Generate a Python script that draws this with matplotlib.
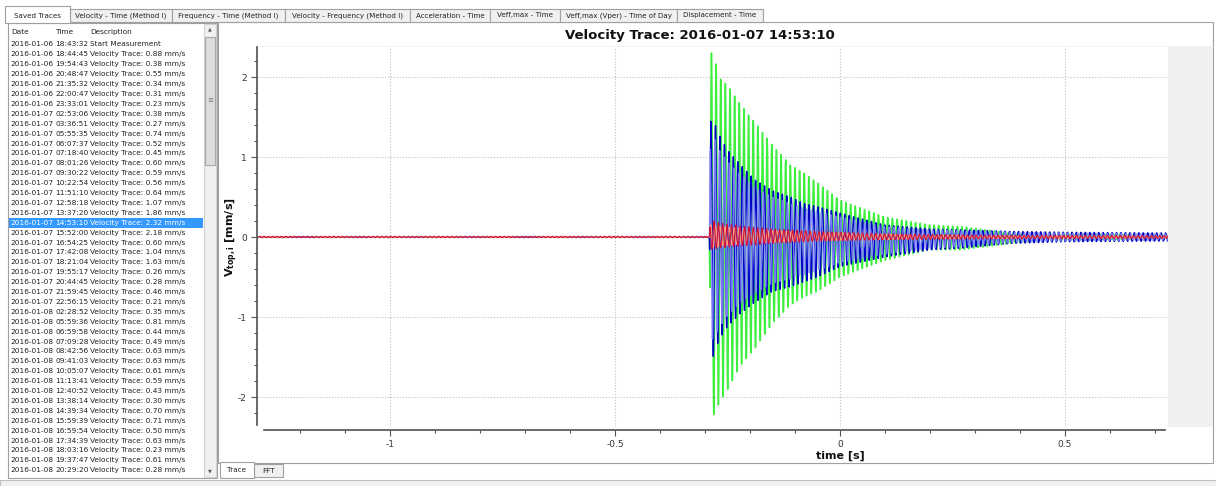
import numpy as np
import matplotlib.pyplot as plt
from matplotlib.patches import Rectangle
from matplotlib.ticker import MultipleLocator, FixedLocator

W, H = 1216, 486

# --- GUI texts ---
tabs = ['Saved Traces', 'Velocity - Time (Method I)', 'Frequency - Time (Method I)',
        'Velocity - Frequency (Method I)', 'Acceleration - Time', 'Veff,max - Time',
        'Veff,max (Vper) - Time of Day', 'Displacement - Time']
tab_edges = [5, 70, 172, 285, 410, 490, 560, 677, 763]

dates = ['2016-01-06'] * 7 + ['2016-01-07'] * 20 + ['2016-01-08'] * 17
times = ['18:43:32', '18:44:45', '19:54:43', '20:48:47', '21:35:32', '22:00:47', '23:33:01',
         '02:53:06', '03:36:51', '05:55:35', '06:07:37', '07:18:40', '08:01:26', '09:30:22',
         '10:22:54', '11:51:10', '12:58:18', '13:37:20', '14:53:10', '15:52:00', '16:54:25',
         '17:42:08', '18:21:04', '19:55:17', '20:44:45', '21:59:45', '22:56:15',
         '02:28:52', '05:59:36', '06:59:58', '07:09:28', '08:42:56', '09:41:03', '10:05:07',
         '11:13:41', '12:40:52', '13:38:14', '14:39:34', '15:59:39', '16:59:54', '17:34:39',
         '18:03:16', '19:37:47', '20:29:20']
peaks = [None, 0.88, 0.38, 0.55, 0.34, 0.31, 0.23,
         0.38, 0.27, 0.74, 0.52, 0.45, 0.60, 0.59, 0.56, 0.64, 1.07, 1.86, 2.32, 2.18, 0.60,
         1.04, 1.63, 0.26, 0.28, 0.46, 0.21,
         0.35, 0.81, 0.44, 0.49, 0.63, 0.63, 0.61, 0.59, 0.43, 0.30, 0.70, 0.71, 0.50, 0.63,
         0.23, 0.61, 0.28]
selected = 18
title = 'Velocity Trace: 2016-01-07 14:53:10'

# --- trace envelopes (time [s], upper / lower peak in mm/s) ---
env_t = [-1.30, -0.29, -0.288, -0.28, -0.27, -0.25, -0.22, -0.19, -0.15, -0.11, -0.08,
         -0.05, 0.0, 0.1, 0.2, 0.27, 0.38, 0.5, 0.73]
green_top = [0.005, 0.005, 2.30, 2.32, 2.0, 1.9, 1.65, 1.44, 1.15, 0.9, 0.8, 0.68, 0.46,
             0.25, 0.15, 0.13, 0.05, 0.04, 0.03]
green_bot = [-0.005, -0.005, -2.20, -2.22, -2.1, -1.91, -1.6, -1.4, -1.08, -0.85, -0.75,
             -0.68, -0.5, -0.29, -0.16, -0.16, -0.08, -0.04, -0.03]
blue_top = [0.005, 0.005, 1.45, 1.45, 1.3, 1.09, 0.9, 0.72, 0.58, 0.5, 0.42, 0.38, 0.30,
            0.15, 0.10, 0.09, 0.07, 0.06, 0.05]
blue_bot = [-0.005, -0.005, -1.45, -1.5, -1.3, -1.12, -0.95, -0.82, -0.68, -0.62, -0.56,
            -0.5, -0.37, -0.25, -0.16, -0.14, -0.08, -0.06, -0.05]
lav_top = [0.005, 0.005, 1.2, 1.25, 1.1, 0.95, 0.78, 0.62, 0.5, 0.42, 0.36, 0.32, 0.25,
           0.13, 0.09, 0.08, 0.06, 0.05, 0.04]
lav_bot = [-0.005, -0.005, -1.25, -1.3, -1.15, -0.98, -0.82, -0.7, -0.58, -0.52, -0.47,
           -0.42, -0.32, -0.21, -0.14, -0.12, -0.07, -0.05, -0.04]
red_top = [0.008, 0.008, 0.2, 0.2, 0.18, 0.16, 0.14, 0.12, 0.1, 0.09, 0.08, 0.07, 0.06,
           0.04, 0.03, 0.025, 0.02, 0.02, 0.015]
red_bot = [-0.008, -0.008, -0.15, -0.15, -0.14, -0.13, -0.11, -0.1, -0.08, -0.07, -0.06,
           -0.05, -0.045, -0.035, -0.03, -0.025, -0.02, -0.02, -0.015]
orange_top = [0.005, 0.005, 0.15, 0.15, 0.14, 0.12, 0.11, 0.1, 0.08, 0.07, 0.06, 0.055,
              0.05, 0.035, 0.025, 0.02, 0.015, 0.015, 0.01]
orange_bot = [-0.005, -0.005, -0.13, -0.13, -0.12, -0.1, -0.09, -0.08, -0.065, -0.055, -0.05,
              -0.045, -0.04, -0.03, -0.02, -0.02, -0.015, -0.015, -0.01]
# dominant frequency of each channel [Hz], onset time [s]
freqs = {'green': 97, 'blue': 101, 'lav': 93, 'red': 103, 'orange': 95}
onset = -0.288

fig = plt.figure(figsize=(W / 100, H / 100), dpi=100, facecolor='white')
plt.rcParams['font.family'] = ['DejaVu Sans']

# background axes in pixel coordinates
bg = fig.add_axes([0, 0, 1, 1], zorder=0)
bg.set_xlim(0, W)
bg.set_ylim(H, 0)
bg.axis('off')


def box(x0, y0, x1, y1, fc, ec='#a0a0a0', lw=0.8, z=1):
    bg.add_patch(Rectangle((x0, y0), x1 - x0, y1 - y0, facecolor=fc, edgecolor=ec, lw=lw, zorder=z))


# tabs
for i, name in enumerate(tabs):
    x0, x1 = tab_edges[i], tab_edges[i + 1]
    if i == 0:
        box(x0, 6, x1, 23, 'white', z=3)
    else:
        box(x0, 9, x1, 22, '#f0f0f0', z=2)
    bg.text((x0 + x1) / 2, 15.5, name, fontsize=5.1, ha='center', va='center', color='#222', zorder=4)

# left list panel
box(8, 23, 217, 478, 'white', z=1)
bg.text(11, 32, 'Date', fontsize=5.3, va='center', color='#222', zorder=4)
bg.text(55, 32, 'Time', fontsize=5.3, va='center', color='#222', zorder=4)
bg.text(90, 32, 'Description', fontsize=5.3, va='center', color='#222', zorder=4)
for i in range(len(dates)):
    y = 44.5 + i * 9.9
    col = '#222'
    if i == selected:
        box(9, y - 5, 203, y + 5, '#3399ff', ec='none', z=2)
        col = 'white'
    desc = 'Start Measurement' if peaks[i] is None else 'Velocity Trace: %.2f mm/s' % peaks[i]
    bg.text(10, y, dates[i], fontsize=5.3, va='center', color=col, zorder=4)
    bg.text(55, y, times[i], fontsize=5.3, va='center', color=col, zorder=4)
    bg.text(90, y, desc, fontsize=5.3, va='center', color=col, zorder=4)
# scrollbar
box(204, 24, 216, 477, '#f0f0f0', ec='#d0d0d0', z=3)
box(205, 37, 215, 165, '#dcdcdc', ec='#a8a8a8', z=4)
bg.text(210, 100, '≡', fontsize=5, ha='center', va='center', color='#777', zorder=5)
bg.text(210, 29, '▲', fontsize=3.5, ha='center', va='center', color='#555', zorder=5)
bg.text(210, 471, '▼', fontsize=3.5, ha='center', va='center', color='#555', zorder=5)

# right plot panel
box(218, 22, 1213, 463, 'white', z=1)
bg.plot([258, 1213], [47, 47], color='#c8c8c8', lw=1, zorder=2)
box(1168, 47, 1213, 427, '#f0f0f0', ec='none', z=2)
bg.text(700, 35, title, fontsize=9.5, fontweight='bold', ha='center', va='center', color='#111', zorder=4)
bg.text(840, 456, 'time [s]', fontsize=8, fontweight='bold', ha='center', va='center', color='#111', zorder=4)
bg.text(232, 237, r'$\mathbf{V_{top,i}}$ [mm/s]', fontsize=8, fontweight='bold', rotation=90,
        ha='center', va='center', color='#111', zorder=4)

# bottom tabs and status bar
box(254, 464, 283, 477, '#f0f0f0', z=2)
box(220, 462, 254, 478, 'white', z=3)
bg.text(237, 470, 'Trace', fontsize=5.2, ha='center', va='center', color='#222', zorder=4)
bg.text(268.5, 470.5, 'FFT', fontsize=5.2, ha='center', va='center', color='#222', zorder=4)
box(0, 480, W, H + 1, '#f0f0f0', ec='#c0c0c0', z=2)

# plot canvas
ax = fig.add_axes([258 / W, 1 - 427 / H, 910 / W, 380 / H], zorder=2)
ax.set_xlim(-1.293, 0.729)
ax.set_ylim(-2.375, 2.375)

t = np.arange(-1.293, 0.729, 0.0003)


def trace(top, bot, f, phase=0.0):
    s = np.sin(2 * np.pi * f * (t - onset) + phase)
    up = np.interp(t, env_t, top)
    lo = -np.interp(t, env_t, bot)
    return np.where(s > 0, s * up, s * lo)


ax.plot(t, trace(green_top, green_bot, freqs['green']), color='#3ef03e', lw=1.1)
ax.plot(t, trace(blue_top, blue_bot, freqs['blue'], 0.5), color='#0000c8', lw=1.0)
ax.plot(t, trace(lav_top, lav_bot, freqs['lav'], 2.0), color='#8c8cff', lw=1.0, alpha=0.85)
ax.plot(t, trace(orange_top, orange_bot, freqs['orange'], 1.0), color='#ffa07a', lw=1.0)
ax.plot(t, trace(red_top, red_bot, freqs['red'], 2.5), color='#d0103a', lw=0.8)

for side in ['top', 'right']:
    ax.spines[side].set_visible(False)
ax.spines['left'].set_position(('outward', 1))
ax.spines['bottom'].set_position(('outward', 2.2))
ax.spines['left'].set_bounds(-2.35, 2.375)
ax.spines['bottom'].set_bounds(-1.28, 0.722)
for side in ['left', 'bottom']:
    ax.spines[side].set_color('#505050')
    ax.spines[side].set_linewidth(1.2)

ax.xaxis.set_major_locator(FixedLocator([-1, -0.5, 0, 0.5]))
ax.set_xticklabels(['-1', '-0.5', '0', '0.5'])
ax.xaxis.set_minor_locator(MultipleLocator(0.1))
ax.yaxis.set_major_locator(FixedLocator([-2, -1, 0, 1, 2]))
ax.set_yticklabels(['-2', '-1', '0', '1', '2'])
ax.yaxis.set_minor_locator(MultipleLocator(0.2))
ax.tick_params(which='major', direction='out', length=4, width=0.8, color='#505050',
               labelsize=6.5, labelcolor='#333', pad=3)
ax.tick_params(which='minor', direction='out', length=2.2, width=0.8, color='#505050')
ax.grid(True, which='major', linestyle=':', color='#bdbdbd', lw=0.8)

plt.savefig('out.png', dpi=100)
